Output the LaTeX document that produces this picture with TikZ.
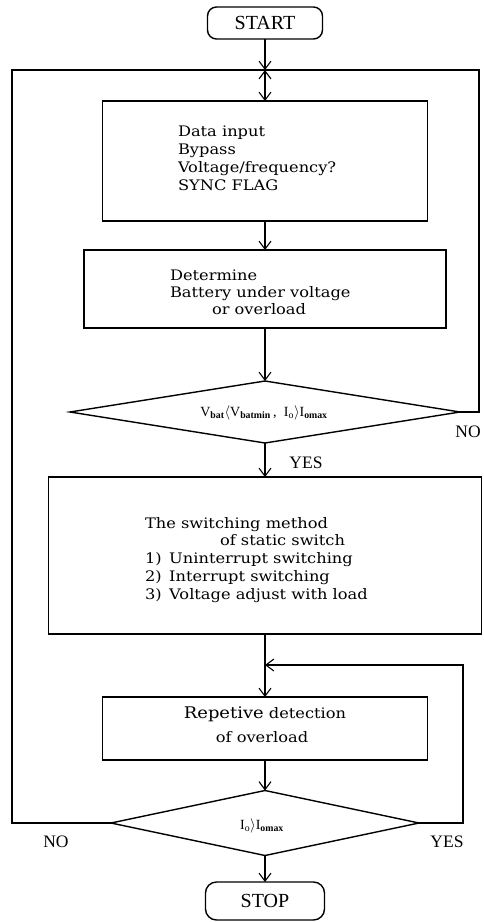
\documentclass[tikz,border=0pt]{standalone}
\usepackage{fontspec}
\setmainfont{Liberation Serif}
\newfontfamily\boxfont[FakeStretch=1.12]{DejaVu Serif}
\usetikzlibrary{arrows.meta,shapes.geometric}
\begin{document}
\begin{tikzpicture}[x=1pt,y=-1pt,
  every node/.style={inner sep=0pt,outer sep=0pt},
  frame/.style={draw,line width=1.4pt,minimum width=#1},
  term/.style={draw,line width=1.4pt,rounded corners=9pt,minimum width=#1,
     font=\fontsize{20}{21}\selectfont},
  dec/.style={draw,diamond,line width=1.4pt,shape aspect=6},
  btxt/.style={anchor=base west,font=\boxfont\fontsize{14.5}{16}\selectfont},
  ctxt/.style={anchor=base,font=\boxfont\fontsize{14.5}{16}\selectfont},
  lbl/.style={font=\fontsize{17.5}{18}\selectfont},
  wire/.style={line width=1.3pt},
  tip/.tip={Straight Barb[length=8pt,width=12pt,line width=1.1pt]},
  arr/.style={line width=1.3pt,-tip},
]
\useasboundingbox (0,0) rectangle (484,922);

% terminals
\node[term=115pt,minimum height=32pt] (start) at (265,23) {START};
\node[term=119pt,minimum height=38pt,rounded corners=11pt] (stop) at (265,901) {STOP};

% process boxes
\node[frame=325pt,minimum height=120pt] (data) at (265,161) {};
\node[frame=362pt,minimum height=78pt] (det) at (265,289) {};
\node[frame=433pt,minimum height=157pt] (sw) at (265,555.5) {};
\node[frame=325pt,minimum height=63pt] (rep) at (265,728.5) {};

% decisions
\node[dec,minimum width=390pt,minimum height=62pt] (d1) at (265,412) {};
\node[dec,minimum width=308pt,minimum height=65pt] (d2) at (265,823) {};

% texts
\node[btxt] (t1) at (178,136) {Data input};
\node[btxt] (t2) at (178,154) {Bypass};
\node[btxt] (t3) at (178,172) {Voltage/frequency?};
\node[btxt] (t4) at (178,190) {SYNC FLAG};

\node[btxt] (t5) at (170,280) {Determine};
\node[btxt] (t6) at (170,297) {Battery under voltage};
\node[btxt] (t7) at (212,314) {or overload};

\node[btxt] (t8) at (145,528) {The switching method};
\node[btxt] (t9) at (220,545.5) {of static switch};
\node[btxt] (t10) at (145,563.5) {1)\, Uninterrupt switching};
\node[btxt] (t11) at (145,581.5) {2)\, Interrupt switching};
\node[btxt] (t12) at (145,599.5) {3)\, Voltage adjust with load};

\node[ctxt] (t13) at (265,718) {{\fontsize{16}{16}\selectfont Repetive} detection};
\node[ctxt] (t14) at (262,742) {of overload};

\node[font=\fontsize{14}{14}\selectfont] (q1) at (264,413)
  {V\textsubscript{\textbf{bat}}$\langle$V\textsubscript{\textbf{batmin}}\,,\; I\textsubscript{o}$\rangle$I\textsubscript{\textbf{omax}}};
\node[font=\fontsize{14}{14}\selectfont] (q2) at (262,826)
  {I\textsubscript{o}$\rangle$I\textsubscript{\textbf{omax}}};

% labels
\node[lbl] (no1) at (468,432) {NO};
\node[lbl] (yes1) at (306,463) {YES};
\node[lbl] (no2) at (56,842) {NO};
\node[lbl] (yes2) at (447,842) {YES};

% junction coordinates
\coordinate (j) at (265,70);
\coordinate (tl) at (12,70);
\coordinate (tr) at (479,70);
\coordinate (m2) at (265,665);
\coordinate (r2) at (463,665);

% main flow
\draw[arr] (start.south) -- (j);
\draw[wire,tip-tip] (j) -- (data.north);
\draw[arr] (data.south) -- (det.north);
\draw[arr] (det.south) -- (d1.north);
\draw[arr] (d1.south) -- (sw.north);
\draw[arr] (sw.south) -- (rep.north);
\draw[arr] (rep.south) -- (d2.north);
\draw[arr] (d2.south) -- (stop.north);

% loops
\draw[wire] (d1.east) -| (tr) -- (j);
\draw[wire] (d2.west) -| (tl) -- (j);
\draw[arr] (d2.east) -| (r2) -- (m2);
\end{tikzpicture}
\end{document}
